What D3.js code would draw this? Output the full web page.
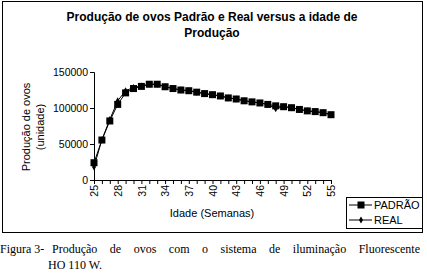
<!DOCTYPE html>
<html>
<head>
<meta charset="utf-8">
<script src="https://cdn.jsdelivr.net/npm/d3@7"></script>
<style>
  body { margin: 0; background: #fff; }
  svg { display: block; }
</style>
</head>
<body>
<div id="chart"></div>
<script>
// weeks of production age
const weeks = d3.range(25, 56);

// standard production curve (PADRÃO)
const padrao = [24000, 55500, 82000, 105000, 121000, 127000, 130000, 133000, 133000, 129500,
  127000, 125000, 124000, 122000, 120000, 118500, 116700, 114000, 112500, 110000,
  108500, 107000, 105000, 103000, 101800, 100400, 98000, 96000, 95000, 93500, 90700];

// measured production (REAL)
const real = [18000, 56000, 84000, 110000, 124000, 128500, 130500, 133000, 133000, 129500,
  127000, 125000, 124000, 122000, 120000, 118500, 116700, 114000, 112500, 110000,
  108500, 107000, 105000, 99000, 101800, 100400, 98000, 96000, 95000, 93500, 90700];

const yTicks = [0, 50000, 100000, 150000];
const xTickLabels = d3.range(25, 56, 3);

const W = 427, H = 280;

const svg = d3.select('#chart').append('svg')
    .attr('width', W)
    .attr('height', H)
    .style('font-family', '"Liberation Sans", Arial, sans-serif');

// chart frame
svg.append('rect')
    .attr('x', 2.5).attr('y', 1.5)
    .attr('width', 420).attr('height', 231)
    .attr('fill', '#fff')
    .attr('stroke', '#000');

const x = d3.scaleLinear().domain([25, 55]).range([94, 331]);
const y = d3.scaleLinear().domain([0, 150000]).range([180, 72]);

// title
svg.append('text')
    .attr('x', 212).attr('y', 21)
    .attr('text-anchor', 'middle')
    .style('font-size', '12px')
    .style('font-weight', 'bold')
    .text('Produção de ovos Padrão e Real versus a idade de');
svg.append('text')
    .attr('x', 212).attr('y', 37)
    .attr('text-anchor', 'middle')
    .style('font-size', '12px')
    .style('font-weight', 'bold')
    .text('Produção');

// y axis
const yAxis = svg.append('g')
    .attr('transform', `translate(${x(25)},0)`)
    .call(d3.axisLeft(y).tickValues(yTicks).tickSize(4).tickFormat(d3.format('d')));
yAxis.select('.domain').attr('stroke', '#000');
yAxis.selectAll('.tick line').attr('stroke', '#000');
yAxis.selectAll('text')
    .attr('x', -6)
    .style('font-size', '10.5px')
    .style('font-family', '"Liberation Sans", Arial, sans-serif')
    .attr('fill', '#000');

// x axis: a tick every week, labels every third week
const xAxis = svg.append('g')
    .attr('transform', `translate(0,${y(0)})`)
    .call(d3.axisBottom(x).tickValues(weeks).tickSize(4).tickSizeOuter(0)
        .tickFormat(d => xTickLabels.includes(d) ? d : ''));
xAxis.select('.domain').attr('stroke', '#000');
xAxis.selectAll('.tick line').attr('stroke', '#000');
xAxis.selectAll('text')
    .attr('transform', 'rotate(-90)')
    .attr('x', -5).attr('y', 0).attr('dy', '0.35em')
    .attr('text-anchor', 'end')
    .style('font-size', '10.5px')
    .style('font-family', '"Liberation Sans", Arial, sans-serif')
    .attr('fill', '#000');

// axis titles
svg.append('text')
    .attr('x', 212).attr('y', 217)
    .attr('text-anchor', 'middle')
    .style('font-size', '11px')
    .text('Idade (Semanas)');

const yTitle = svg.append('text')
    .attr('transform', 'translate(30,127) rotate(-90)')
    .attr('text-anchor', 'middle')
    .style('font-size', '11px');
yTitle.append('tspan').attr('x', 0).attr('dy', 0).text('Produção de ovos');
yTitle.append('tspan').attr('x', 0).attr('dy', '1.25em').text('(unidade)');

const line = d3.line().x((d, i) => x(weeks[i])).y(d => y(d));

// REAL series
svg.append('path')
    .datum(real)
    .attr('d', line)
    .attr('fill', 'none')
    .attr('stroke', '#000')
    .attr('stroke-width', 1);

// PADRÃO series
svg.append('path')
    .datum(padrao)
    .attr('d', line)
    .attr('fill', 'none')
    .attr('stroke', '#000')
    .attr('stroke-width', 1);

svg.append('g').selectAll('rect')
    .data(padrao)
    .join('rect')
    .attr('x', (d, i) => x(weeks[i]) - 3.5)
    .attr('y', d => y(d) - 3.5)
    .attr('width', 7).attr('height', 7)
    .attr('fill', '#000');

const diamond = d3.symbol().type(d3.symbolDiamond).size(14);
svg.append('g').selectAll('path')
    .data(real)
    .join('path')
    .attr('transform', (d, i) => `translate(${x(weeks[i])},${y(d)})`)
    .attr('d', diamond)
    .attr('fill', '#000');

// legend
const legend = svg.append('g');
legend.append('rect')
    .attr('x', 346.5).attr('y', 197.5)
    .attr('width', 76).attr('height', 31)
    .attr('fill', '#fff')
    .attr('stroke', '#000');

const legendItems = [
  { name: 'PADRÃO', marker: 'square', y: 205 },
  { name: 'REAL', marker: 'diamond', y: 220 }
];
legendItems.forEach(item => {
    legend.append('line')
        .attr('x1', 349).attr('x2', 372)
        .attr('y1', item.y).attr('y2', item.y)
        .attr('stroke', '#000');
    if (item.marker === 'square') {
        legend.append('rect')
            .attr('x', 357.5).attr('y', item.y - 3.5)
            .attr('width', 7).attr('height', 7)
            .attr('fill', '#000');
    } else {
        legend.append('path')
            .attr('transform', `translate(361,${item.y})`)
            .attr('d', diamond)
            .attr('fill', '#000');
    }
    legend.append('text')
        .attr('x', 374).attr('y', item.y)
        .attr('dy', '0.36em')
        .style('font-size', '11px')
        .text(item.name);
});

// figure caption: first line justified word by word
const serif = '"Liberation Serif", "Times New Roman", serif';
const capFont = '12px';
svg.append('text')
    .attr('x', 0).attr('y', 253)
    .style('font-family', serif)
    .style('font-size', capFont)
    .text('Figura 3-');

const capWords = 'Produção de ovos com o sistema de iluminação Fluorescente'.split(' ');
const capStart = 52, capEnd = 420;
const wordNodes = capWords.map(w => svg.append('text')
    .attr('y', 253)
    .style('font-family', serif)
    .style('font-size', capFont)
    .text(w));
const widths = wordNodes.map(n => n.node().getComputedTextLength());
const gap = (capEnd - capStart - d3.sum(widths)) / (capWords.length - 1);
let cx = capStart;
wordNodes.forEach((n, i) => {
    n.attr('x', cx);
    cx += widths[i] + gap;
});

svg.append('text')
    .attr('x', 48).attr('y', 269)
    .style('font-family', serif)
    .style('font-size', capFont)
    .text('HO 110 W.');
</script>
</body>
</html>
